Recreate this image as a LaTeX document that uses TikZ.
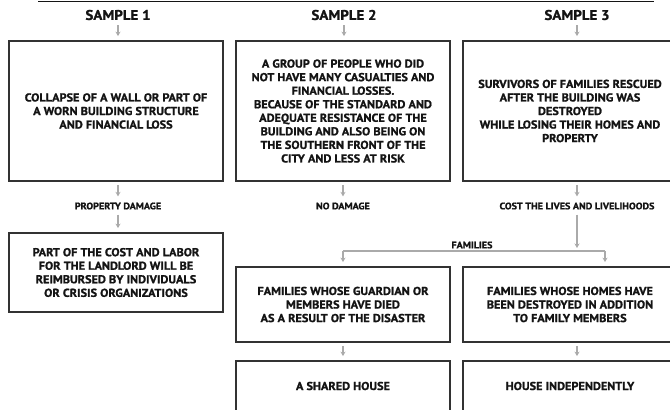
\documentclass[tikz,border=0pt]{standalone}
\usepackage{fontspec}
\setmainfont{PT Sans}[FakeStretch=1.07, FakeBold=1.2]
\usetikzlibrary{arrows.meta}
\definecolor{arrowgray}{RGB}{170,170,170}
\definecolor{boxgray}{RGB}{50,50,50}
\definecolor{textblack}{RGB}{20,20,20}

\begin{document}
\begin{tikzpicture}[x=1bp, y=-1bp,
    box/.style={draw=boxgray, line width=1.8bp, minimum width=214bp, align=center,
      text=textblack, inner sep=0pt, font=\bfseries\fontsize{11.5}{13.6}\selectfont},
    head/.style={text=textblack, inner sep=2bp, font=\bfseries\fontsize{14}{16}\selectfont},
    lbl/.style={text=textblack, inner sep=2bp, font=\bfseries\fontsize{9.5}{11}\selectfont},
    arr/.style={draw=arrowgray, line width=1.2bp, -{Stealth[length=4.5bp,width=5bp]},
      shorten <=3bp, shorten >=4bp},
    fork/.style={draw=arrowgray, line width=1.2bp}]
    \useasboundingbox (0,0) rectangle (670,409);
    \draw [line width=1.8bp, textblack] (38,1.5) -- (654,1.5);

    % column headers
    \node (s1) at (118,15) [head] {SAMPLE 1};
    \node (s2) at (344,15) [head] {SAMPLE 2};
    \node (s3) at (577,15) [head] {SAMPLE 3};

    % first row of boxes
    \node (b1) at (116,111) [box, minimum height=140bp]
      {COLLAPSE OF A WALL OR PART OF\\A WORN BUILDING STRUCTURE\\AND FINANCIAL LOSS};
    \node (b2) at (343,111) [box, minimum height=140bp]
      {A GROUP OF PEOPLE WHO DID\\NOT HAVE MANY CASUALTIES AND\\FINANCIAL LOSSES.\\BECAUSE OF THE STANDARD AND\\ADEQUATE RESISTANCE OF THE\\BUILDING AND ALSO BEING ON\\THE SOUTHERN FRONT OF THE\\CITY AND LESS AT RISK};
    \node (b3) at (570,111) [box, minimum height=140bp]
      {SURVIVORS OF FAMILIES RESCUED\\AFTER THE BUILDING WAS\\DESTROYED\\WHILE LOSING THEIR HOMES AND\\PROPERTY};
    \draw [arr] (s1.south) -- (s1.south |- b1.north);
    \draw [arr] (s2.south) -- (s2.south |- b2.north);
    \draw [arr] (s3.south) -- (s3.south |- b3.north);

    % outcomes
    \node (pd) at (118,206) [lbl] {PROPERTY DAMAGE};
    \node (nd) at (343,206) [lbl] {NO DAMAGE};
    \node (cl) at (577,206) [lbl] {COST THE LIVES AND LIVELIHOODS};
    \draw [arr] (pd |- b1.south) -- (pd.north);
    \draw [arr] (b2.south) -- (nd.north);
    \draw [arr] (cl |- b3.south) -- (cl.north);

    \node (b4) at (116,272.5) [box, minimum height=79bp]
      {PART OF THE COST AND LABOR\\FOR THE LANDLORD WILL BE\\REIMBURSED BY INDIVIDUALS\\OR CRISIS ORGANIZATIONS};
    \draw [arr] (pd.south) -- (pd.south |- b4.north);

    % families split
    \coordinate (forkL) at (343,251);
    \coordinate (forkR) at (605,251);
    \node (fam) at (472,245) [lbl] {FAMILIES};
    \draw [arr, shorten >=3bp] (cl.south) -- (cl.south |- forkR);
    \draw [fork] (forkL) -- (forkR);

    \node (b5) at (343,304.5) [box, minimum height=75bp]
      {FAMILIES WHOSE GUARDIAN OR\\MEMBERS HAVE DIED\\AS A RESULT OF THE DISASTER};
    \node (b6) at (570,304.5) [box, minimum height=75bp]
      {FAMILIES WHOSE HOMES HAVE\\BEEN DESTROYED IN ADDITION\\TO FAMILY MEMBERS};
    \draw [arr, shorten <=0bp] (forkL) -- (forkL |- b5.north);
    \draw [arr, shorten <=0bp] (forkR) -- (forkR |- b6.north);

    % last row
    \node (b7) at (343,386) [box, minimum height=50bp] {A SHARED HOUSE};
    \node (b8) at (570,386) [box, minimum height=50bp] {HOUSE INDEPENDENTLY};
    \draw [arr] (b5.south) -- (b7.north);
    \draw [arr] (cl.south |- b6.south) -- (cl.south |- b8.north);
\end{tikzpicture}
\end{document}
